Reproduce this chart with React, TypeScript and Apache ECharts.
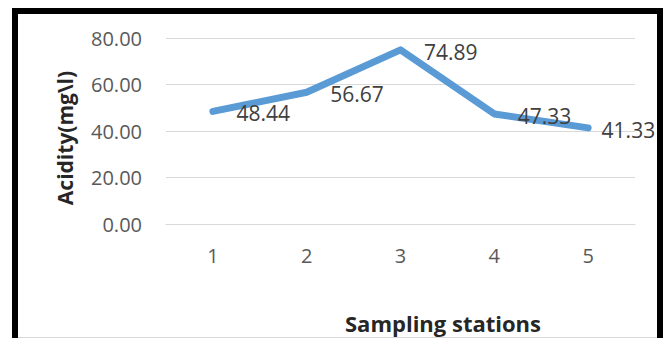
import React, { useEffect, useRef } from "react";
import * as echarts from "echarts";

// Acidity measured at each sampling station
const stations: string[] = ["1", "2", "3", "4", "5"];
const acidity: number[] = [48.44, 56.67, 74.89, 47.33, 41.33];
const yTicks: number[] = [0, 20, 40, 60, 80];

const FONT = "'Open Sans', 'Noto Sans', sans-serif";

export default function App() {
  const ref = useRef<HTMLDivElement | null>(null);

  useEffect(() => {
    document.body.style.margin = "0";
    const chart = echarts.init(ref.current!, undefined, { renderer: "svg" });
    const last = acidity.length - 1;
    chart.setOption({
      animation: false,
      backgroundColor: "#ffffff",
      grid: { left: 166, right: 34, top: 38, bottom: 114, containLabel: false },
      xAxis: {
        type: "category",
        data: stations,
        boundaryGap: true,
        axisLine: { show: true, lineStyle: { color: "#D9D9D9", width: 1 } },
        axisTick: { show: false },
        axisLabel: { color: "#595959", fontSize: 20, fontFamily: FONT, margin: 21 },
      },
      yAxis: {
        type: "value",
        min: yTicks[0],
        max: yTicks[yTicks.length - 1],
        interval: 20,
        axisLine: { show: false },
        axisTick: { show: false },
        splitLine: { lineStyle: { color: "#D9D9D9", width: 1 } },
        axisLabel: {
          color: "#595959",
          fontSize: 20,
          fontFamily: FONT,
          margin: 24,
          formatter: (v: number) => v.toFixed(2),
        },
      },
      series: [
        {
          type: "line",
          // the last label is pulled in so it stays inside the frame
          data: acidity.map((v, i) =>
            i === last ? { value: v, label: { offset: [8, 2] } } : v
          ),
          showSymbol: true,
          symbol: "circle",
          symbolSize: 1,
          itemStyle: { color: "#5B9BD5" },
          lineStyle: { color: "#5B9BD5", width: 7, cap: "round", join: "round" },
          label: {
            show: true,
            position: "right",
            offset: [18, 2],
            color: "#404040",
            fontSize: 21,
            fontFamily: FONT,
            formatter: (p: any) => Number(p.value).toFixed(2),
          },
        },
      ],
      graphic: [
        // chart area frame
        {
          type: "line",
          silent: true,
          shape: { x1: 18, y1: 337.5, x2: 657, y2: 337.5 },
          style: { stroke: "#D9D9D9", lineWidth: 1 },
        },
        {
          type: "polyline",
          silent: true,
          z: 100,
          shape: { points: [[15, 345], [15, 11], [660, 11], [660, 345]] },
          style: { stroke: "#000000", lineWidth: 6, fill: "none" },
        },
        {
          type: "text",
          x: 65,
          y: 138,
          rotation: Math.PI / 2,
          style: {
            text: "Acidity(mg\\l)",
            fontSize: 21,
            fontWeight: "bold",
            fontFamily: FONT,
            fill: "#262626",
            align: "center",
            verticalAlign: "middle",
          },
        },
        {
          type: "text",
          x: 443,
          y: 323,
          style: {
            text: "Sampling stations",
            fontSize: 22,
            fontWeight: "bold",
            fontFamily: FONT,
            fill: "#262626",
            align: "center",
            verticalAlign: "middle",
          },
        },
      ],
    });
    return () => chart.dispose();
  }, []);

  return (
    <div
      ref={ref}
      style={{ position: "fixed", left: 0, top: 0, width: 669, height: 338 }}
    />
  );
}
